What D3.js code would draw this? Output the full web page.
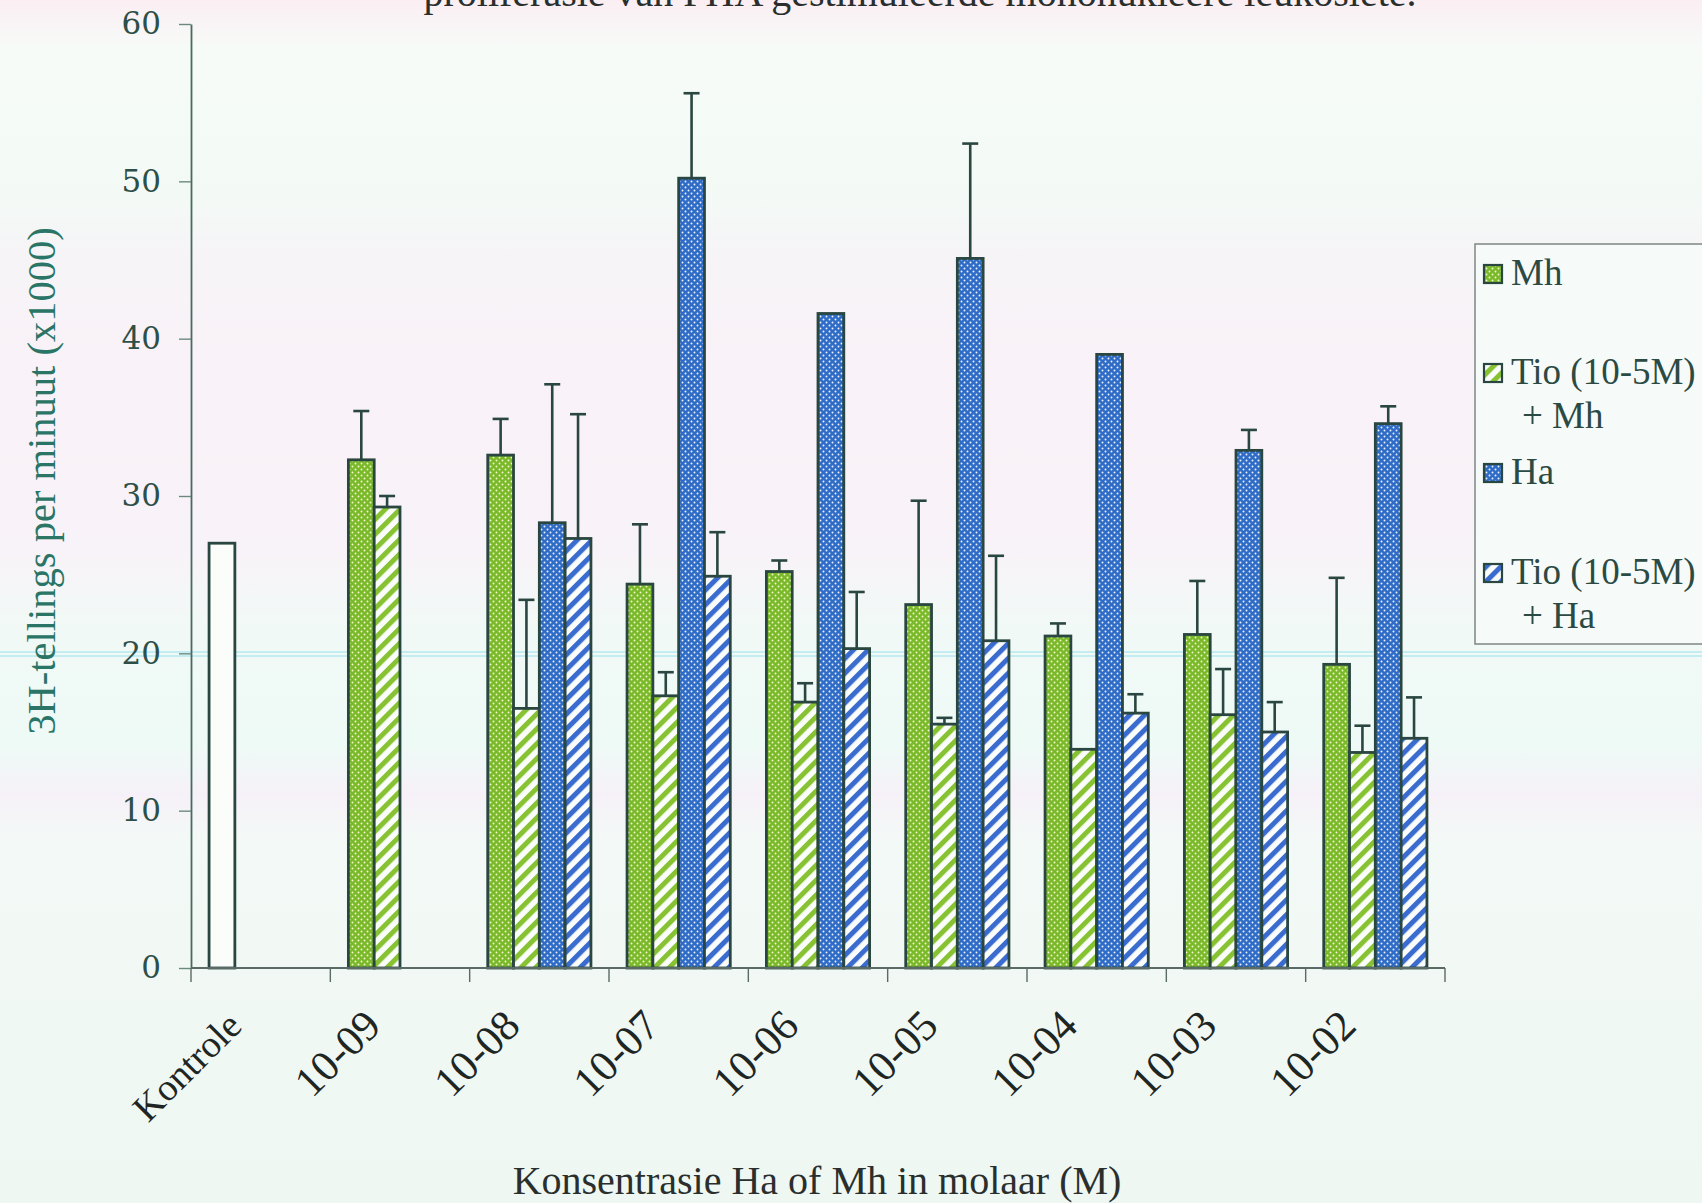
<!DOCTYPE html>
<html><head><meta charset="utf-8">
<script src="https://cdn.jsdelivr.net/npm/d3@7"></script>
<style>html,body{margin:0;padding:0;background:#f4faf6;overflow:hidden}</style>
</head><body>
<svg id="chart" width="1702" height="1203"></svg>
<script>
// ---- data ----
const categories = ["Kontrole","10-09","10-08","10-07","10-06","10-05","10-04","10-03","10-02"];
const seriesNames = ["Mh","Tio (10-5M) + Mh","Ha","Tio (10-5M) + Ha"];
const kontrole  = [27.0, null, null, null, null, null, null, null, null];
const mh        = [null, 32.3, 32.6, 24.4, 25.2, 23.1, 21.1, 21.2, 19.3];
const mhErr     = [null, 3.1, 2.3, 3.8, 0.7, 6.6, 0.8, 3.4, 5.5];
const tioMh     = [null, 29.3, 16.5, 17.3, 16.9, 15.5, 13.9, 16.1, 13.7];
const tioMhErr  = [null, 0.7, 6.9, 1.5, 1.2, 0.4, 0.0, 2.9, 1.7];
const ha        = [null, null, 28.3, 50.2, 41.6, 45.1, 39.0, 32.9, 34.6];
const haErr     = [null, null, 8.8, 5.4, 0.0, 7.3, 0.0, 1.3, 1.1];
const tioHa     = [null, null, 27.3, 24.9, 20.3, 20.8, 16.2, 15.0, 14.6];
const tioHaErr  = [null, null, 7.9, 2.8, 3.6, 5.4, 1.2, 1.9, 2.6];
const yTicks = [0, 10, 20, 30, 40, 50, 60];
const titleText = "proliferasie van PHA gestimuleerde mononukleêre leukosiete.";
const yTitle = "3H-tellings per minuut (x1000)";
const xTitle = "Konsentrasie Ha of Mh in molaar (M)";

// ---- setup ----
const svg = d3.select("#chart");
const W = 1702, H = 1203;
const m = {left: 191, right: 1445, top: 24, bottom: 968};
const serif = "'Liberation Serif','Times New Roman',serif";
const wideSerif = "'DejaVu Serif',serif";
const outline = "#2a4640";

const defs = svg.append("defs");
const bg = defs.append("linearGradient").attr("id","bg").attr("x1",0).attr("y1",0).attr("x2",0).attr("y2",1);
[[0,"#fbeef3"],[0.04,"#f6fbf8"],[0.16,"#f3faf6"],[0.21,"#f6f4f7"],[0.30,"#f9f2f8"],[0.46,"#f8f3f8"],
 [0.52,"#f1f9f6"],[0.62,"#eefaf6"],[0.66,"#f6f1f8"],[0.70,"#f3f9f6"],[1,"#eef7f2"]]
 .forEach(([o,c]) => bg.append("stop").attr("offset",o).attr("stop-color",c));

function dots(id, base, dotCol){
  const p = defs.append("pattern").attr("id",id).attr("patternUnits","userSpaceOnUse").attr("width",6).attr("height",6);
  p.append("rect").attr("width",6).attr("height",6).attr("fill",base);
  p.append("circle").attr("cx",1.5).attr("cy",1.5).attr("r",0.95).attr("fill",dotCol);
  p.append("circle").attr("cx",4.5).attr("cy",4.5).attr("r",0.95).attr("fill",dotCol);
}
function stripes(id, col){
  const p = defs.append("pattern").attr("id",id).attr("patternUnits","userSpaceOnUse")
    .attr("width",10.5).attr("height",10.5).attr("patternTransform","rotate(45)");
  p.append("rect").attr("width",10.5).attr("height",10.5).attr("fill","#fbfdfb");
  p.append("rect").attr("width",5).attr("height",10.5).attr("fill",col);
}
dots("dotG", "#7aba2a", "#f3f7c8");
dots("dotB", "#2f6cc6", "#eef2ff");
stripes("strG", "#86c232");
stripes("strB", "#3a6cd0");

const fills = {"Kontrole":"#fbfdfb","Mh":"url(#dotG)","Tio (10-5M) + Mh":"url(#strG)","Ha":"url(#dotB)","Tio (10-5M) + Ha":"url(#strB)"};

svg.append("rect").attr("width",W).attr("height",H).attr("fill","url(#bg)");
[652, 656].forEach(yy => svg.append("line").attr("x1",0).attr("x2",W).attr("y1",yy).attr("y2",yy)
  .attr("stroke","#a6e6ef").attr("stroke-width",1.6).attr("opacity",0.8));

// ---- scales ----
const x0 = d3.scaleBand().domain(categories).range([m.left, m.right]).paddingInner(0).paddingOuter(0);
const x1 = d3.scaleBand().domain(seriesNames).range([0, x0.bandwidth()]).paddingInner(0).paddingOuter(0.7);
const y = d3.scaleLinear().domain([0, 60]).range([m.bottom, m.top]);

// ---- bars ----
const bars = [];
categories.forEach((c, i) => {
  if (kontrole[i] != null) bars.push({c, slot:"Mh", key:"Kontrole", v:kontrole[i], e:null});
  [[mh,mhErr,"Mh"],[tioMh,tioMhErr,"Tio (10-5M) + Mh"],[ha,haErr,"Ha"],[tioHa,tioHaErr,"Tio (10-5M) + Ha"]]
    .forEach(([vals, errs, key]) => { if (vals[i] != null) bars.push({c, slot:key, key, v:vals[i], e:errs[i]}); });
});

const gBars = svg.append("g");
const gErr = gBars.append("g").attr("stroke", outline).attr("stroke-width", 2.6).attr("fill","none");
bars.filter(d => d.e != null && d.e > 0).forEach(d => {
  const cx = x0(d.c) + x1(d.slot) + x1.bandwidth()/2;
  gErr.append("line").attr("x1",cx).attr("x2",cx).attr("y1",y(d.v)).attr("y2",y(d.v + d.e));
  gErr.append("line").attr("x1",cx-8).attr("x2",cx+8).attr("y1",y(d.v + d.e)).attr("y2",y(d.v + d.e));
});
gBars.selectAll("rect.bar").data(bars).join("rect").attr("class","bar")
  .attr("x", d => x0(d.c) + x1(d.slot))
  .attr("width", x1.bandwidth())
  .attr("y", d => y(d.v))
  .attr("height", d => y(0) - y(d.v))
  .attr("fill", d => fills[d.key])
  .attr("stroke", outline).attr("stroke-width", 2.8);

// ---- axes ----
const yAxis = svg.append("g").attr("transform", `translate(${m.left},0)`)
  .call(d3.axisLeft(y).tickValues(yTicks).tickSize(12).tickPadding(18).tickSizeOuter(0));
yAxis.select(".domain").attr("stroke","#4a6a60").attr("stroke-width",1.8);
yAxis.selectAll(".tick line").attr("stroke","#6a8a80").attr("stroke-width",1.4);
yAxis.selectAll(".tick text").attr("font-family", wideSerif).attr("font-size", 31).attr("fill","#2e4f47");

const gx = svg.append("g");
gx.append("line").attr("x1", m.left).attr("x2", m.right).attr("y1", m.bottom).attr("y2", m.bottom)
  .attr("stroke","#5a6a66").attr("stroke-width",1.8);
const bounds = categories.map(c => x0(c)).concat([x0(categories[categories.length-1]) + x0.bandwidth()]);
gx.selectAll("line.bt").data(bounds).join("line").attr("class","bt")
  .attr("x1", d => d).attr("x2", d => d).attr("y1", m.bottom).attr("y2", m.bottom + 14)
  .attr("stroke","#5a6a66").attr("stroke-width",1.4);
gx.selectAll("text.xl").data(categories).join("text").attr("class","xl")
  .attr("transform", d => `translate(${x0(d) + x0.bandwidth()/2 - 17},${m.bottom + 60}) rotate(-45)`)
  .attr("text-anchor","end")
  .attr("font-family", serif).attr("font-size", d => /^\d/.test(d) ? 43 : 38).attr("fill","#1e2624")
  .text(d => d);

// ---- titles ----
svg.append("text").attr("x", 920).attr("y", 6).attr("text-anchor","middle")
  .attr("font-family", serif).attr("font-size", 40).attr("fill","#2a2f2e").text(titleText);
svg.append("text").attr("transform", "translate(41,481) rotate(-90)").attr("text-anchor","middle")
  .attr("dominant-baseline","central")
  .attr("font-family", serif).attr("font-size", 40.5).attr("fill","#2a7566").text(yTitle);
svg.append("text").attr("x", 817).attr("y", 1194).attr("text-anchor","middle")
  .attr("font-family", serif).attr("font-size", 40).attr("fill","#2a2f2e").text(xTitle);

// ---- legend ----
const lg = svg.append("g");
lg.append("rect").attr("x",1475).attr("y",244).attr("width",260).attr("height",400)
  .attr("fill","#f6fbf9").attr("stroke","#7d8784").attr("stroke-width",1.5);
const legendRows = [
  {key:"Mh", lines:["Mh"], base:285},
  {key:"Tio (10-5M) + Mh", lines:["Tio (10-5M)","+ Mh"], base:384},
  {key:"Ha", lines:["Ha"], base:484},
  {key:"Tio (10-5M) + Ha", lines:["Tio (10-5M)","+ Ha"], base:584}
];
legendRows.forEach(r => {
  lg.append("rect").attr("x",1484).attr("y",r.base-20).attr("width",18).attr("height",18)
    .attr("fill", fills[r.key]).attr("stroke", outline).attr("stroke-width",2.2);
  r.lines.forEach((t, j) => {
    lg.append("text").attr("x", j === 0 ? 1511 : 1522).attr("y", r.base + j*44)
      .attr("font-family", serif).attr("font-size", 37).attr("fill","#2c4a44").text(t);
  });
});
</script>
</body></html>
